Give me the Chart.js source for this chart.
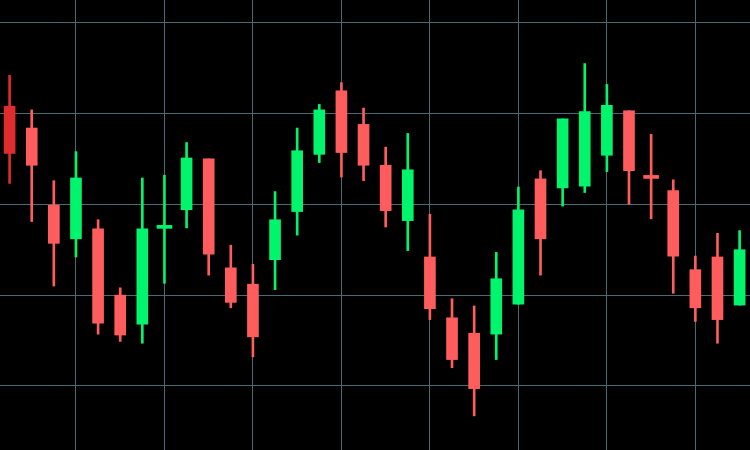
<!DOCTYPE html>
<html>
<head>
<meta charset="utf-8">
<script src="https://cdn.jsdelivr.net/npm/chart.js@4.4.1/dist/chart.umd.min.js"></script>
<style>
    html, body { margin: 0; padding: 0; background: #000; }
    #wrap { width: 750px; height: 450px; position: relative; }
</style>
</head>
<body>
<div id="wrap"><canvas id="candleChart"></canvas></div>
<script>
// OHLC per session
const opens  = [130.8, 128.4, 119.9, 116.2, 117.3, 110.0, 106.8, 117.35, 119.4, 125.0, 113.0, 111.2, 113.9, 119.2, 125.5, 132.5, 128.8,
                124.3, 118.2, 114.2, 107.5, 105.8, 105.7, 109.0, 122.8, 121.8, 122.0, 125.4, 130.3, 123.15, 121.5, 112.8, 114.2, 108.9];
const highs  = [134.2, 130.4, 122.6, 125.8, 118.3, 110.8, 122.9, 123.2, 126.8, 125.0, 115.5, 113.4, 121.4, 128.4, 131.0, 133.4, 130.6,
                126.3, 127.8, 118.9, 109.6, 108.8, 114.7, 121.9, 123.7, 129.4, 135.5, 133.2, 130.3, 127.7, 122.7, 114.3, 116.8, 117.1];
const lows   = [122.3, 118.1, 111.0, 114.2, 105.7, 104.9, 104.7, 111.3, 117.4, 112.2, 108.6, 103.2, 110.6, 116.6, 124.6, 123.0, 122.6,
                117.5, 114.9, 107.3, 102.0, 96.7, 102.9, 109.0, 112.2, 119.8, 121.3, 123.6, 120.0, 118.4, 110.2, 107.1, 104.7, 108.9];
const closes = [125.6, 124.3, 115.7, 122.9, 106.9, 105.6, 117.3, 117.65, 125.1, 114.5, 109.2, 105.4, 118.3, 125.9, 130.4, 125.7, 124.3,
                119.3, 123.8, 108.5, 102.9, 99.7, 111.8, 119.4, 116.2, 129.4, 130.2, 130.9, 123.7, 122.85, 114.3, 108.6, 107.3, 115.0];
const priceTicks = [100, 110, 120, 130, 140];
const timeTicks = [3, 7, 11, 15, 19, 23, 27, 31];

(function(){
    const upColor = '#00f46c';
    const downColor = '#ff5d5d';
    const firstColor = '#de2d2d';
    const gridColor = '#4a6a78';

    let candleColor = function(i){
        if(i === 0) return firstColor;
        return closes[i] >= opens[i] ? upColor : downColor;
    };
    let isDoji = function(i){
        return Math.abs(closes[i] - opens[i]) < 0.5;
    };

    let wickData = [], bodyData = [], dojiData = [];
    opens.forEach(function(o, i){
        wickData.push({ x: i, y: [lows[i], highs[i]], c: candleColor(i) });
        if(isDoji(i)){
            dojiData.push({ x: i, y: [o, closes[i]], c: candleColor(i) });
        } else {
            bodyData.push({ x: i, y: [o, closes[i]], c: candleColor(i) });
        }
    });

    let colorOf = function(ctx){
        return ctx.raw ? ctx.raw.c : downColor;
    };

    let ctx = document.getElementById('candleChart');
    let candleChart = new Chart(ctx, {
        type: 'bar',
        data: {
            datasets: [{
                label: 'wick',
                data: wickData,
                barThickness: 2,
                grouped: false,
                order: 3,
                backgroundColor: colorOf,
                borderWidth: 0
            }, {
                label: 'body',
                data: bodyData,
                barThickness: 11,
                grouped: false,
                order: 1,
                backgroundColor: colorOf,
                borderWidth: 0
            }, {
                label: 'doji',
                data: dojiData,
                barThickness: 15,
                minBarLength: 3,
                grouped: false,
                order: 2,
                backgroundColor: colorOf,
                borderWidth: 0
            }]
        },
        options: {
            responsive: true,
            maintainAspectRatio: false,
            animation: false,
            layout: { padding: 0 },
            plugins: {
                legend: { display: false },
                tooltip: { enabled: false }
            },
            scales: {
                x: {
                    type: 'linear',
                    min: -0.434,
                    max: 33.47,
                    offset: false,
                    grid: { color: gridColor, lineWidth: 1, drawTicks: false, offset: false },
                    border: { display: false },
                    ticks: { display: false },
                    afterBuildTicks: function(scale){
                        scale.ticks = timeTicks.map(function(v){ return { value: v }; });
                    }
                },
                y: {
                    min: 92.94,
                    max: 142.5,
                    beginAtZero: false,
                    grid: { color: gridColor, lineWidth: 1, drawTicks: false },
                    border: { display: false },
                    ticks: { display: false },
                    afterBuildTicks: function(scale){
                        scale.ticks = priceTicks.map(function(v){ return { value: v }; });
                    }
                }
            }
        }
    });
})();
</script>
</body>
</html>
